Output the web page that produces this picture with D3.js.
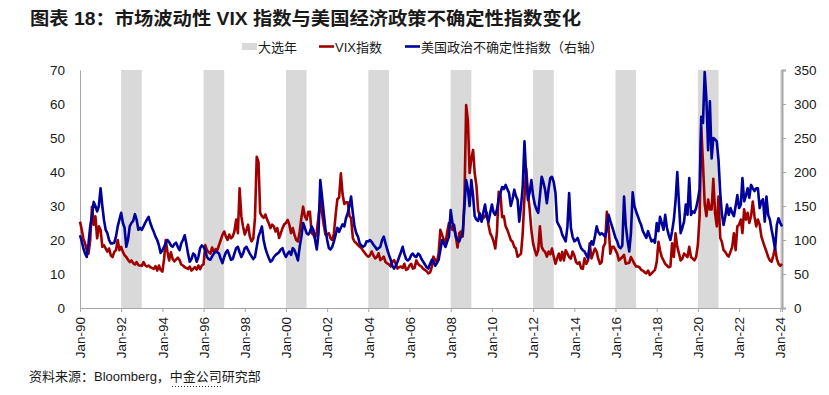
<!DOCTYPE html>
<html>
<head>
<meta charset="utf-8">
<script src="https://cdn.jsdelivr.net/npm/d3@7"></script>
<style>
  body { margin: 0; background: #fff; }
  svg { display: block; }
  text { font-family: 'Liberation Sans', Arial, 'Noto Sans CJK SC', sans-serif; fill: #1a1a1a; }
  .cjk { font-family: 'Liberation Sans', 'Noto Sans CJK SC', sans-serif; }
</style>
</head>
<body>
<svg id="chart" width="829" height="395"></svg>
<script>
// monthly, Jan-1990 .. Feb-2024
const vix = [
  25.4, 23.0, 20.5, 19.0, 17.0, 16.0, 20.0, 29.8, 24.5, 27.0, 20.5, 24.0, // 1990
  23.0, 18.0, 18.5, 17.5, 16.6, 17.5, 15.5, 15.0, 16.5, 17.0, 20.0, 17.0, // 1991
  18.0, 16.5, 15.5, 15.0, 14.2, 13.5, 14.0, 13.2, 12.8, 13.5, 12.6, 12.5, // 1992
  12.4, 13.5, 12.6, 12.2, 12.5, 12.0, 11.8, 11.5, 12.3, 11.0, 12.5, 11.2, // 1993
  10.7, 14.5, 20.0, 16.5, 14.0, 16.4, 14.5, 13.7, 14.3, 14.8, 14.1, 12.8, // 1994
  12.5, 12.0, 11.8, 11.5, 12.2, 11.0, 11.5, 12.0, 11.3, 12.5, 11.4, 12.5, // 1995
  12.8, 18.5, 17.0, 16.4, 16.0, 17.8, 16.5, 17.3, 17.0, 18.5, 20.0, 21.5, // 1996
  22.5, 21.0, 20.0, 21.6, 20.5, 21.0, 22.5, 26.0, 22.0, 35.2, 27.0, 24.0, // 1997
  21.6, 23.0, 24.5, 21.0, 19.6, 20.5, 26.5, 44.5, 43.0, 28.0, 27.0, 26.5, // 1998
  27.5, 26.0, 25.0, 23.5, 24.5, 24.0, 22.5, 23.5, 20.6, 22.0, 23.5, 24.6, // 1999
  25.0, 25.9, 24.5, 22.0, 23.5, 21.5, 20.0, 19.6, 22.5, 26.5, 29.8, 27.0, // 2000
  26.0, 28.3, 28.3, 22.0, 21.5, 20.6, 22.5, 26.9, 31.8, 28.0, 24.5, 21.6, // 2001
  21.6, 22.0, 20.5, 20.0, 22.0, 27.5, 32.0, 32.5, 39.6, 33.5, 30.6, 31.1, // 2002
  31.1, 27.0, 26.5, 20.6, 19.5, 19.1, 18.5, 18.0, 17.6, 16.8, 16.2, 15.5, // 2003
  15.1, 15.5, 16.6, 15.5, 14.6, 15.0, 16.1, 14.1, 14.5, 15.1, 13.5, 13.1, // 2004
  12.8, 12.2, 13.5, 14.1, 13.0, 11.6, 12.0, 12.2, 11.8, 13.0, 11.2, 11.5, // 2005
  12.5, 13.0, 11.6, 11.8, 14.0, 13.0, 12.5, 12.2, 11.5, 11.2, 10.8, 10.2, // 2006
  10.5, 12.2, 15.1, 14.0, 13.5, 16.0, 23.0, 21.5, 20.0, 19.0, 22.5, 25.0, // 2007
  24.0, 23.0, 24.5, 21.0, 17.8, 22.0, 22.5, 21.0, 32.0, 59.7, 55.0, 39.7, // 2008
  44.0, 46.5, 39.7, 36.0, 28.8, 27.0, 25.9, 26.5, 26.9, 28.0, 24.5, 22.0, // 2009
  21.0, 19.5, 17.5, 22.5, 34.2, 33.5, 26.7, 27.0, 24.0, 23.0, 21.5, 20.0, // 2010
  19.5, 18.0, 17.5, 15.1, 15.5, 16.0, 22.0, 32.6, 41.0, 34.0, 29.0, 23.0, // 2011
  19.0, 17.0, 15.5, 17.0, 24.0, 18.0, 17.0, 16.5, 15.1, 16.6, 15.8, 17.5, // 2012
  15.1, 13.0, 14.5, 16.0, 14.0, 16.5, 14.0, 17.0, 16.0, 15.0, 14.5, 16.6, // 2013
  15.5, 13.5, 13.0, 13.5, 11.7, 11.5, 14.6, 13.0, 14.0, 19.0, 14.6, 16.0, // 2014
  17.5, 16.6, 14.5, 13.0, 13.5, 18.0, 19.0, 28.3, 24.0, 16.0, 18.0, 18.0, // 2015
  17.0, 16.0, 14.0, 14.5, 15.0, 15.6, 13.0, 13.2, 13.3, 15.0, 14.0, 13.0, // 2016
  12.2, 12.2, 12.0, 11.2, 11.0, 10.5, 10.2, 11.0, 9.7, 10.2, 10.7, 11.2, // 2017
  13.5, 19.5, 17.0, 15.0, 14.0, 13.0, 12.5, 12.0, 12.2, 19.0, 15.0, 22.0, // 2018
  18.0, 16.0, 14.0, 14.5, 16.0, 15.5, 15.0, 18.0, 15.0, 14.5, 14.0, 15.0, // 2019
  18.6, 27.0, 53.3, 42.5, 30.6, 27.0, 31.9, 29.0, 29.0, 38.0, 27.9, 24.0, // 2020
  32.8, 20.6, 19.5, 17.0, 16.5, 15.6, 15.1, 16.5, 18.0, 22.0, 17.0, 24.0, // 2021
  24.5, 26.0, 22.0, 29.0, 26.0, 28.0, 25.0, 27.0, 31.3, 27.0, 24.0, 26.0, // 2022
  24.5, 21.0, 19.5, 18.0, 16.6, 15.0, 14.0, 13.6, 15.5, 17.6, 14.5, 13.0, // 2023
  12.4, 13.0 // 2024
]

const epu = [
  107, 98, 88, 80, 75, 95, 120, 135, 156, 150, 142, 150, // 1990
  176, 150, 130, 115, 110, 100, 95, 95, 96, 105, 120, 130, // 1991
  140, 125, 118, 90, 100, 120, 125, 128, 138, 130, 115, 118, // 1992
  115, 120, 125, 130, 134, 125, 118, 112, 105, 100, 92, 81, // 1993
  85, 90, 95, 100, 97, 92, 90, 94, 96, 90, 85, 95, // 1994
  100, 107, 95, 80, 68, 72, 80, 78, 68, 75, 88, 92, // 1995
  90, 85, 75, 72, 71, 76, 80, 83, 82, 80, 72, 66, // 1996
  75, 82, 85, 78, 71, 72, 80, 88, 90, 82, 75, 80, // 1997
  88, 90, 85, 80, 76, 72, 75, 90, 105, 112, 120, 100, // 1998
  88, 80, 74, 68, 70, 75, 78, 80, 82, 86, 88, 80, // 1999
  75, 80, 83, 78, 88, 85, 78, 70, 90, 105, 125, 118, // 2000
  110, 108, 112, 120, 115, 100, 86, 110, 188, 165, 140, 117, // 2001
  100, 88, 86, 90, 98, 108, 118, 112, 118, 123, 120, 132, // 2002
  140, 150, 164, 140, 120, 110, 105, 95, 92, 90, 92, 98, // 2003
  98, 100, 97, 93, 90, 86, 88, 90, 100, 105, 95, 86, // 2004
  78, 71, 62, 58, 62, 68, 75, 82, 90, 80, 72, 70, // 2005
  72, 78, 80, 76, 75, 80, 78, 72, 68, 64, 60, 58, // 2006
  65, 71, 68, 62, 66, 71, 85, 100, 95, 90, 98, 105, // 2007
  144, 125, 118, 105, 100, 98, 105, 110, 150, 188, 175, 150, // 2008
  188, 165, 135, 130, 128, 139, 127, 140, 152, 135, 127, 140, // 2009
  152, 140, 137, 145, 160, 169, 178, 175, 181, 175, 169, 150, // 2010
  160, 174, 165, 159, 127, 150, 178, 245, 193, 159, 170, 188, // 2011
  165, 152, 145, 140, 165, 193, 185, 174, 154, 175, 191, 193, // 2012
  185, 169, 127, 122, 117, 108, 103, 98, 120, 169, 118, 105, // 2013
  98, 100, 103, 95, 88, 85, 83, 78, 73, 90, 98, 93, // 2014
  105, 120, 112, 108, 110, 108, 105, 115, 137, 128, 120, 112, // 2015
  103, 98, 90, 88, 92, 164, 122, 100, 83, 110, 170, 150, // 2016
  142, 135, 128, 122, 113, 108, 103, 113, 105, 98, 100, 96, // 2017
  125, 113, 134, 125, 115, 137, 118, 108, 100, 113, 130, 157, // 2018
  200, 152, 110, 118, 127, 152, 137, 191, 137, 142, 140, 147, // 2019
  159, 175, 281, 272, 347, 306, 232, 304, 220, 250, 248, 245, // 2020
  218, 169, 139, 122, 135, 152, 137, 147, 140, 135, 150, 166, // 2021
  147, 152, 191, 157, 165, 176, 162, 181, 176, 172, 176, 176, // 2022
  147, 157, 160, 127, 164, 137, 130, 115, 102, 86, 122, 132, // 2023
  125, 120 // 2024
]

const electionYears = [1992, 1996, 2000, 2004, 2008, 2012, 2016, 2020, 2024]
const leftTicks = [0, 10, 20, 30, 40, 50, 60, 70]
const rightTicks = [0, 50, 100, 150, 200, 250, 300, 350]
const xTickYears = d3.range(1990, 2025, 2)

const title = '图表 18：市场波动性 VIX 指数与美国经济政策不确定性指数变化'
const legendNames = ['大选年', 'VIX指数', '美国政治不确定性指数（右轴）']
const source = '资料来源：Bloomberg，中金公司研究部'

window.addEventListener('load', makeChart)
function makeChart() {
  const svg = d3.select('#chart')
  const red = '#a00000',
    blue = '#00009c',
    grey = '#d9d9d9',
    axisGrey = '#a6a6a6'

  const dates = vix.map((d, i) => new Date(1990, i, 1))
  const x = d3.scaleTime().domain(d3.extent(dates)).range([80, 782])
  const yL = d3.scaleLinear().domain([0, 70]).range([308, 70])
  const yR = d3.scaleLinear().domain([0, 350]).range([308, 70])

  // election-year bands
  svg
    .append('g')
    .selectAll('rect')
    .data(electionYears)
    .enter()
    .append('rect')
    .attr('x', (d) => x(new Date(d, 0, 1)))
    .attr('width', (d) => Math.max(0, x(d3.min([new Date(d + 1, 0, 1), dates[dates.length - 1]])) - x(new Date(d, 0, 1))))
    .attr('y', yL(70))
    .attr('height', yL(0) - yL(70))
    .attr('fill', grey)

  // axes
  const gL = svg
    .append('g')
    .attr('transform', 'translate(80,0)')
    .call(d3.axisLeft(yL).tickValues(leftTicks).tickSize(0).tickPadding(15))
  const gR = svg
    .append('g')
    .attr('transform', 'translate(782,0)')
    .call(d3.axisRight(yR).tickValues(rightTicks).tickSize(4).tickPadding(8))
  const gB = svg
    .append('g')
    .attr('transform', 'translate(0,308)')
    .call(
      d3
        .axisBottom(x)
        .tickValues(xTickYears.map((yr) => new Date(yr, 0, 1)))
        .tickFormat(d3.timeFormat('Jan-%y'))
        .tickSize(4)
    )
  gB.selectAll('text')
    .attr('transform', 'rotate(-90)')
    .attr('x', -9)
    .attr('y', 0)
    .attr('dy', '0.35em')
    .attr('text-anchor', 'end')

  ;[gL, gR, gB].forEach((g) => {
    g.selectAll('path, line').attr('stroke', axisGrey)
    g.selectAll('text').attr('font-size', 13.5).attr('fill', '#1a1a1a').attr('font-family', null)
  })
  gR.select('path').attr('stroke-width', 2)

  // series
  const lineL = d3
    .line()
    .x((d, i) => x(dates[i]))
    .y((d) => yL(d))
  const lineR = d3
    .line()
    .x((d, i) => x(dates[i]))
    .y((d) => yR(d))

  svg.append('path').datum(vix).attr('d', lineL).attr('fill', 'none').attr('stroke', red).attr('stroke-width', 2.6).attr('stroke-linejoin', 'round')
  svg.append('path').datum(epu).attr('d', lineR).attr('fill', 'none').attr('stroke', blue).attr('stroke-width', 2.6).attr('stroke-linejoin', 'round')

  // title
  svg
    .append('text')
    .attr('class', 'cjk')
    .attr('x', 30)
    .attr('y', 25)
    .attr('font-size', 18)
    .attr('font-weight', 'bold')
    .attr('textLength', 551)
    .attr('lengthAdjust', 'spacingAndGlyphs')
    .text(title)

  // legend
  const lg = svg.append('g').attr('class', 'cjk').attr('font-size', 13)
  lg.append('rect').attr('x', 242).attr('y', 43).attr('width', 15).attr('height', 7).attr('fill', grey)
  lg.append('text').attr('x', 258).attr('y', 51.5).text(legendNames[0])
  lg.append('line').attr('x1', 319).attr('x2', 334).attr('y1', 46.5).attr('y2', 46.5).attr('stroke', red).attr('stroke-width', 2.6)
  lg.append('text').attr('x', 335).attr('y', 51.5).text(legendNames[1])
  lg.append('line').attr('x1', 405).attr('x2', 420).attr('y1', 46.5).attr('y2', 46.5).attr('stroke', blue).attr('stroke-width', 2.6)
  lg.append('text').attr('x', 421).attr('y', 51.5).text(legendNames[2])

  // source
  svg.append('text').attr('class', 'cjk').attr('x', 29).attr('y', 381).attr('font-size', 13).text(source)
  svg
    .append('line')
    .attr('x1', 172)
    .attr('x2', 222)
    .attr('y1', 386.5)
    .attr('y2', 386.5)
    .attr('stroke', '#333')
    .attr('stroke-dasharray', '1,2')
}
</script>
</body>
</html>
